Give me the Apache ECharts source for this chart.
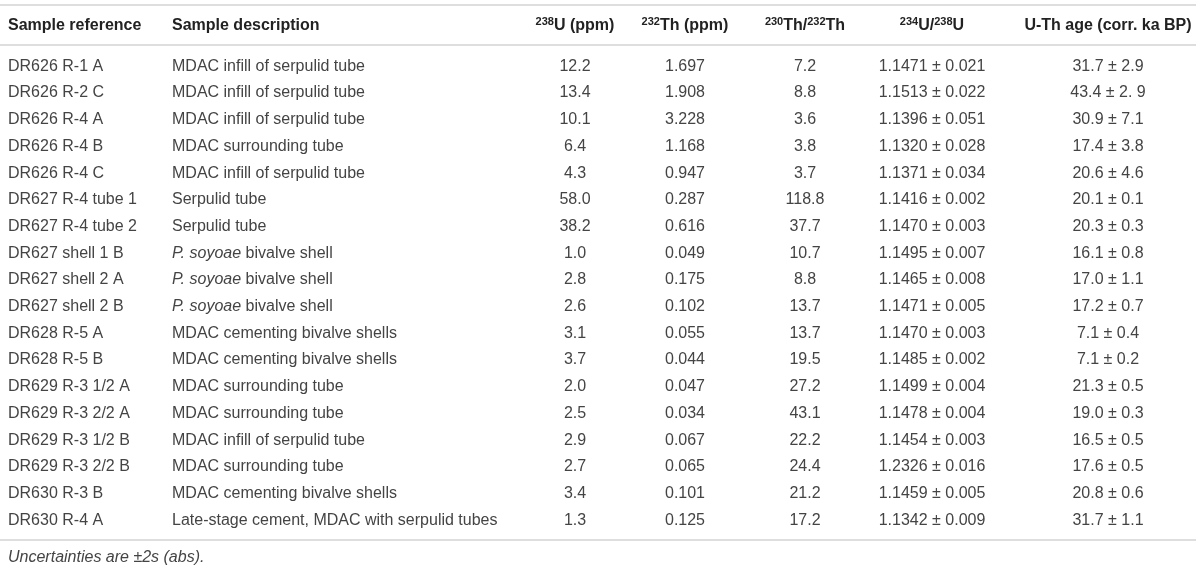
<!DOCTYPE html>
<html>
<head>
<meta charset="utf-8">
<script src="https://cdn.jsdelivr.net/npm/echarts@6/dist/echarts.min.js"></script>
<style>
  html, body { margin: 0; padding: 0; background: #fff; }
  #main { width: 1200px; height: 571px; }
</style>
</head>
<body>
<div id="main"></div>
<script>
// table content
var headers = ['Sample reference', 'Sample description', '{sup|238}{h|U (ppm)}', '{sup|232}{h|Th (ppm)}',
    '{sup|230}{h|Th/}{sup|232}{h|Th}', '{sup|234}{h|U/}{sup|238}{h|U}', 'U-Th age (corr. ka BP)'];

var sampleRefs = ['DR626 R-1 A', 'DR626 R-2 C', 'DR626 R-4 A', 'DR626 R-4 B', 'DR626 R-4 C',
    'DR627 R-4 tube 1', 'DR627 R-4 tube 2', 'DR627 shell 1 B', 'DR627 shell 2 A', 'DR627 shell 2 B',
    'DR628 R-5 A', 'DR628 R-5 B', 'DR629 R-3 1/2 A', 'DR629 R-3 2/2 A', 'DR629 R-3 1/2 B',
    'DR629 R-3 2/2 B', 'DR630 R-3 B', 'DR630 R-4 A'];

var descriptions = ['MDAC infill of serpulid tube', 'MDAC infill of serpulid tube', 'MDAC infill of serpulid tube',
    'MDAC surrounding tube', 'MDAC infill of serpulid tube', 'Serpulid tube', 'Serpulid tube',
    'P. soyoae bivalve shell', 'P. soyoae bivalve shell', 'P. soyoae bivalve shell',
    'MDAC cementing bivalve shells', 'MDAC cementing bivalve shells', 'MDAC surrounding tube',
    'MDAC surrounding tube', 'MDAC infill of serpulid tube', 'MDAC surrounding tube',
    'MDAC cementing bivalve shells', 'Late-stage cement, MDAC with serpulid tubes'];

var u238 = ['12.2', '13.4', '10.1', '6.4', '4.3', '58.0', '38.2', '1.0', '2.8', '2.6',
    '3.1', '3.7', '2.0', '2.5', '2.9', '2.7', '3.4', '1.3'];

var th232 = ['1.697', '1.908', '3.228', '1.168', '0.947', '0.287', '0.616', '0.049', '0.175', '0.102',
    '0.055', '0.044', '0.047', '0.034', '0.067', '0.065', '0.101', '0.125'];

var thRatio = ['7.2', '8.8', '3.6', '3.8', '3.7', '118.8', '37.7', '10.7', '8.8', '13.7',
    '13.7', '19.5', '27.2', '43.1', '22.2', '24.4', '21.2', '17.2'];

var uRatio = ['1.1471 ± 0.021', '1.1513 ± 0.022', '1.1396 ± 0.051', '1.1320 ± 0.028', '1.1371 ± 0.034',
    '1.1416 ± 0.002', '1.1470 ± 0.003', '1.1495 ± 0.007', '1.1465 ± 0.008', '1.1471 ± 0.005',
    '1.1470 ± 0.003', '1.1485 ± 0.002', '1.1499 ± 0.004', '1.1478 ± 0.004', '1.1454 ± 0.003',
    '1.2326 ± 0.016', '1.1459 ± 0.005', '1.1342 ± 0.009'];

var ages = ['31.7 ± 2.9', '43.4 ± 2. 9', '30.9 ± 7.1', '17.4 ± 3.8', '20.6 ± 4.6', '20.1 ± 0.1',
    '20.3 ± 0.3', '16.1 ± 0.8', '17.0 ± 1.1', '17.2 ± 0.7', '7.1 ± 0.4', '7.1 ± 0.2',
    '21.3 ± 0.5', '19.0 ± 0.3', '16.5 ± 0.5', '17.6 ± 0.5', '20.8 ± 0.6', '31.7 ± 1.1'];

var footnote = 'Uncertainties are ±2s (abs).';

// column anchors (x) and alignment
var colX = [8, 172, 575, 685, 805, 932, 1108];
var colAlign = ['left', 'left', 'center', 'center', 'center', 'center', 'center'];

var FONT = '"Liberation Sans", Arial, sans-serif';
var SIZE = 16;
var BODY = '#444';
var RULE = '#dedede';

var chartDom = document.getElementById('main');
var myChart = echarts.init(chartDom);

var columns = [descriptions, u238, th232, thRatio, uRatio, ages];

function italicize(text) {
    return text.replace('P. soyoae', '{i|P. soyoae}');
}

function renderRow(params, api) {
    var row = api.value(0);
    var children = columns.map(function (col, c) {
        var pt = api.coord([colX[c + 1], row]);
        return {
            type: 'text',
            style: {
                x: pt[0],
                y: pt[1],
                text: c === 0 ? italicize(col[row]) : col[row],
                align: colAlign[c + 1],
                verticalAlign: 'middle',
                fontFamily: FONT,
                fontSize: SIZE,
                fill: BODY,
                rich: {
                    i: { fontStyle: 'italic', fontFamily: FONT, fontSize: SIZE, fill: BODY }
                }
            }
        };
    });
    return { type: 'group', children: children };
}

var headerRich = {
    sup: { fontSize: 11, fontWeight: 'bold', fontFamily: FONT, fill: '#222', verticalAlign: 'top', lineHeight: 20 },
    h: { fontSize: SIZE, fontWeight: 'bold', fontFamily: FONT, fill: '#222', lineHeight: 20 }
};

var headerGraphics = headers.map(function (h, c) {
    var isRich = h.indexOf('{') === 0;
    return {
        type: 'text',
        x: colX[c],
        y: 26,
        style: {
            text: isRich ? h : '{h|' + h + '}',
            align: colAlign[c],
            verticalAlign: 'middle',
            rich: headerRich
        }
    };
});

function rule(y) {
    return {
        type: 'line',
        shape: { x1: 0, y1: y, x2: 1196, y2: y },
        style: { stroke: RULE, lineWidth: 2 }
    };
}

var option = {
    animation: false,
    grid: { left: 0, right: 0, top: 53, height: 480.6 },
    xAxis: { type: 'value', min: 0, max: 1200, show: false },
    yAxis: {
        type: 'category',
        inverse: true,
        data: sampleRefs,
        axisLine: { show: false },
        axisTick: { show: false },
        splitLine: { show: false },
        axisLabel: {
            inside: true,
            margin: 8,
            align: 'left',
            fontFamily: FONT,
            fontSize: SIZE,
            color: BODY
        }
    },
    graphic: [rule(5), rule(45), rule(540)].concat(headerGraphics).concat([{
        type: 'text',
        x: 8,
        y: 558,
        style: {
            text: footnote,
            align: 'left',
            verticalAlign: 'middle',
            fontFamily: FONT,
            fontStyle: 'italic',
            fontSize: SIZE,
            fill: BODY
        }
    }]),
    series: [{
        type: 'custom',
        renderItem: renderRow,
        data: sampleRefs.map(function (s, i) { return [i]; }),
        encode: { y: 0 },
        silent: true
    }]
};

myChart.setOption(option);
</script>
</body>
</html>
